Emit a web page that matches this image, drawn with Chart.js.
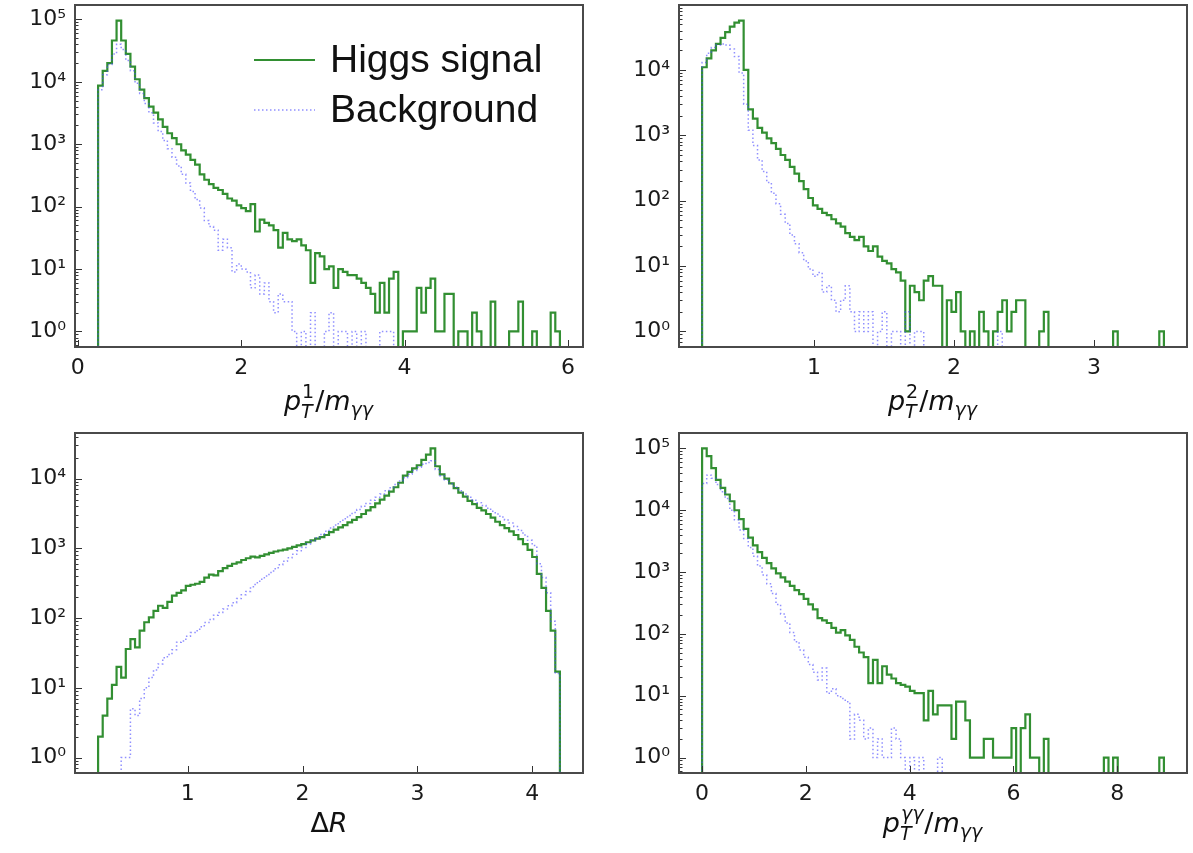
<!DOCTYPE html>
<html>
<head>
<meta charset="utf-8">
<script src="https://cdn.jsdelivr.net/npm/chart.js@4.4.1/dist/chart.umd.min.js"></script>
<style>
    body { margin: 0; background: #fff; }
    #wrap { position: relative; width: 1193px; height: 853px; overflow: hidden; }
    canvas { position: absolute; }
</style>
</head>
<body>
<div id="wrap">
    <canvas id="chart-pt1" width="580" height="428" style="left:10px;top:0"></canvas>
    <canvas id="chart-pt2" width="579" height="428" style="left:614px;top:0"></canvas>
    <canvas id="chart-dr" width="580" height="425" style="left:10px;top:428px"></canvas>
    <canvas id="chart-ptgg" width="579" height="425" style="left:614px;top:428px"></canvas>
</div>
<script>
/**
 * Histogram ranges (first and last bin edge), 100 equal bins each.
 */
const pt1Range = [0.25, 5.9];
const pt2Range = [0.2, 3.5];
const drRange = [0.22, 4.24];
const ptggRange = [0, 8.9];

// p_T^1 / m_yy
const pt1Signal = [
    8700, 15000, 20000, 46000, 96000, 46000, 28000, 17500, 11000, 7500,
    5500, 4000, 3200, 2500, 1900, 1500, 1250, 1000, 800, 680,
    560, 470, 330, 270, 230, 200, 185, 160, 135, 125,
    105, 95, 85, 110, 40, 62, 55, 50, 42, 22,
    38, 30, 28, 30, 24, 20, 6, 18, 16, 10,
    11, 5, 10, 9, 8, 8, 7, 6, 5, 4,
    2, 6, 2, 7, 9, 0, 1, 1, 1, 5,
    2, 5, 7, 1, 1, 4, 4, 0, 1, 1,
    0, 2, 1, 0, 0, 3, 0, 0, 0, 1,
    1, 3, 0, 0, 1, 0, 0, 0, 2, 1
];
const pt1Background = [
    7500, 13000, 19000, 28000, 40000, 33000, 22000, 15000, 9500, 6500,
    4500, 3200, 2200, 1600, 1150, 850, 620, 450, 330, 240,
    175, 130, 95, 60, 48, 42, 20, 30, 22, 9,
    12, 10, 9, 5, 8, 4, 6, 3, 2, 4,
    3, 3, 1, 0, 1, 0, 2, 0, 0, 1,
    2, 0, 1, 1, 0, 1, 0, 1, 0, 0,
    0, 1, 1, 1, 0, 0, 0, 0, 0, 0,
    0, 0, 0, 0, 0, 0, 0, 0, 0, 0,
    0, 0, 0, 0, 0, 0, 0, 0, 0, 0,
    0, 0, 0, 0, 0, 0, 0, 0, 0, 0
];

// p_T^2 / m_yy
const pt2Signal = [
    11000, 15000, 20000, 25000, 31000, 38000, 46000, 53000, 57000, 10000,
    2500, 1800, 1300, 1100, 900, 760, 620, 500, 420, 330,
    260, 200, 150, 110, 85, 75, 65, 60, 52, 45,
    40, 32, 28, 25, 28, 20, 17, 20, 14, 12,
    11, 9, 8, 6, 1, 5, 4, 3, 6, 7,
    5, 5, 0, 3, 2, 4, 1, 0, 1, 0,
    2, 1, 0, 1, 2, 3, 1, 2, 3, 3,
    0, 0, 0, 1, 2, 0, 0, 0, 0, 0,
    0, 0, 0, 0, 0, 0, 0, 0, 0, 1,
    0, 0, 0, 0, 0, 0, 0, 0, 0, 1
];
const pt2Background = [
    13000, 18000, 22000, 24000, 25000, 24000, 21000, 16000, 9000, 3000,
    1200, 700, 420, 280, 190, 130, 90, 62, 45, 30,
    22, 16, 12, 9, 7, 8, 4, 5, 3, 2,
    3, 5, 2, 1, 2, 1, 2, 0, 1, 2,
    0, 1, 1, 0, 2, 0, 1, 1, 0, 0,
    0, 0, 0, 0, 0, 0, 0, 0, 0, 0,
    0, 0, 0, 0, 1, 0, 0, 0, 0, 0,
    0, 0, 0, 0, 0, 0, 0, 0, 0, 0,
    0, 0, 0, 0, 0, 0, 0, 0, 0, 0,
    0, 0, 0, 0, 0, 0, 0, 0, 0, 0
];

// Delta R
const drSignal = [
    2, 4, 7, 11, 20, 14, 36, 50, 38, 66,
    87, 102, 127, 150, 140, 170, 210, 230, 250, 290,
    300, 310, 330, 380, 420, 410, 470, 520, 560, 600,
    630, 680, 720, 760, 740, 780, 820, 860, 900, 930,
    960, 1000, 1050, 1100, 1150, 1220, 1300, 1380, 1450, 1550,
    1700, 1850, 2000, 2150, 2350, 2550, 2800, 3100, 3500, 3900,
    4400, 5000, 5700, 6500, 7500, 8700, 11000, 12500, 14000, 15500,
    18500, 22000, 27000, 15000, 11500, 10000, 8500, 7300, 6300, 5500,
    4800, 4300, 3800, 3500, 3100, 2750, 2400, 2150, 1950, 1750,
    1550, 1350, 1150, 950, 750, 430, 270, 127, 66, 17
];
const drBackground = [
    0, 0, 0, 0, 0, 1, 1, 5, 4, 7,
    10, 14, 18, 22, 27, 30, 35, 45, 47, 55,
    62, 66, 75, 86, 95, 110, 120, 135, 150, 166,
    190, 215, 240, 280, 320, 360, 400, 450, 510, 580,
    650, 730, 820, 920, 1030, 1150, 1280, 1420, 1580, 1750,
    1950, 2150, 2400, 2650, 2950, 3250, 3600, 4000, 4400, 4900,
    5400, 6000, 6700, 7400, 8200, 9200, 10300, 11500, 13000, 14500,
    16000, 17000, 18000, 13500, 11000, 9500, 8400, 7500, 6700, 6000,
    5400, 4900, 4500, 4100, 3750, 3400, 3100, 2800, 2550, 2300,
    2050, 1800, 1550, 1300, 1100, 600, 380, 230, 90, 16
];

// p_T^yy / m_yy
const ptggSignal = [
    100000, 75000, 48000, 31000, 23000, 18000, 14000, 10000, 7200, 5000,
    3600, 2700, 2100, 1700, 1400, 1150, 950, 820, 700, 600,
    510, 440, 370, 300, 250, 180, 165, 150, 125, 105,
    115, 95, 80, 62, 50, 42, 16, 38, 16, 30,
    22, 19, 16, 15, 14, 12, 11, 11, 4, 12,
    5, 7, 7, 7, 2, 8, 8, 4, 1, 1,
    1, 2, 2, 1, 1, 1, 1, 3, 0, 3,
    5, 1, 1, 0, 2, 0, 0, 0, 0, 0,
    0, 0, 0, 0, 0, 0, 0, 1, 0, 1,
    0, 0, 0, 0, 0, 0, 0, 0, 0, 1
];
const ptggBackground = [
    27000, 37000, 33000, 26000, 20000, 15500, 10000, 7000, 4800, 3500,
    2500, 1800, 1250, 900, 650, 450, 300, 210, 150, 105,
    75, 55, 42, 32, 24, 18, 28, 11, 13, 10,
    9, 8, 2, 5, 4, 2, 3, 1, 2, 1,
    1, 3, 2, 1, 0, 1, 0, 1, 0, 0,
    0, 1, 0, 0, 0, 0, 0, 0, 0, 0,
    0, 0, 0, 0, 0, 0, 0, 0, 0, 0,
    0, 0, 0, 0, 0, 0, 0, 0, 0, 0,
    0, 0, 0, 0, 0, 0, 0, 0, 0, 0,
    0, 0, 0, 0, 0, 0, 0, 0, 0, 0
];

// x tick labels per panel
const pt1Ticks = [0, 2, 4, 6];
const pt2Ticks = [1, 2, 3];
const drTicks = [1, 2, 3, 4];
const ptggTicks = [0, 2, 4, 6, 8];

// axis titles, written as mathtext pieces
const pt1Title = [{t: 'p', i: true}, {sup: '1', sub: 'T'}, {t: '/'}, {t: 'm', i: true}, {sub: 'γγ'}];
const pt2Title = [{t: 'p', i: true}, {sup: '2', sub: 'T'}, {t: '/'}, {t: 'm', i: true}, {sub: 'γγ'}];
const drTitle = [{t: 'Δ'}, {t: 'R', i: true}];
const ptggTitle = [{t: 'p', i: true}, {sup: 'γγ', sub: 'T'}, {t: '/'}, {t: 'm', i: true}, {sub: 'γγ'}];

const SIGNAL_LABEL = 'Higgs signal';
const BACKGROUND_LABEL = 'Background';

const GREEN = 'rgb(50, 143, 50)';
const BLUE = 'rgba(70, 70, 255, 0.6)';
const FONT = '"DejaVu Sans", sans-serif';
const FLOOR = 1e-3;
const SUP = {'0': '⁰', '1': '¹', '2': '²', '3': '³', '4': '⁴', '5': '⁵', '6': '⁶', '7': '⁷', '8': '⁸', '9': '⁹'};

Chart.defaults.font.family = FONT;

/**
 * turns bin counts into the outline of a step histogram
 */
function histPoints(range, counts) {
    const w = (range[1] - range[0]) / counts.length;
    const pts = [{x: range[0], y: FLOOR}];
    counts.forEach((c, i) => pts.push({x: range[0] + i * w, y: c > 0 ? c : FLOOR}));
    pts.push({x: range[1], y: FLOOR});
    return pts;
}

/**
 * 5% margins like matplotlib autoscale
 */
function paddedRange(range) {
    const m = 0.05 * (range[1] - range[0]);
    return [range[0] - m, range[1] + m];
}

function logLimits(series) {
    let lo = Infinity, hi = 0;
    series.forEach(s => s.forEach(v => {
        if (v > 0) { lo = Math.min(lo, v); hi = Math.max(hi, v); }
    }));
    lo = Math.log10(lo);
    hi = Math.log10(hi);
    const m = 0.05 * (hi - lo);
    return [Math.pow(10, lo - m), Math.pow(10, hi + m)];
}

/**
 * draws a small mathtext-like label centred on cx
 */
function drawMath(ctx, parts, cx, baseline, size) {
    const small = Math.round(size * 0.7);
    const font = (it, s) => (it ? 'italic ' : '') + s + 'px ' + FONT;
    const pieces = [];
    let x = 0;
    parts.forEach(p => {
        if (p.t) {
            ctx.font = font(p.i, size);
            pieces.push({text: p.t, font: ctx.font, x: x, dy: 0});
            x += ctx.measureText(p.t).width;
        } else {
            let w = 0;
            if (p.sup) {
                ctx.font = font(!/^\d+$/.test(p.sup), small);
                pieces.push({text: p.sup, font: ctx.font, x: x + 1, dy: -0.45 * size});
                w = Math.max(w, ctx.measureText(p.sup).width + 1);
            }
            if (p.sub) {
                ctx.font = font(true, small);
                pieces.push({text: p.sub, font: ctx.font, x: x, dy: p.sup ? 0.28 * size : 0.22 * size});
                w = Math.max(w, ctx.measureText(p.sub).width);
            }
            x += w + 1;
        }
    });
    const x0 = cx - x / 2;
    pieces.forEach(p => {
        ctx.font = p.font;
        ctx.fillText(p.text, x0 + p.x, baseline + p.dy);
    });
}

const framePlugin = {
    id: 'frame',
    afterDatasetsDraw(chart) {
        const {ctx, chartArea: a, scales: {x, y}} = chart;
        ctx.save();
        ctx.strokeStyle = '#333';
        ctx.lineWidth = 1;
        const e0 = Math.floor(Math.log10(y.min)), e1 = Math.ceil(Math.log10(y.max));
        for (let e = e0; e <= e1; e++) {
            for (let k = 1; k < 10; k++) {
                const v = k * Math.pow(10, e);
                if (v < y.min || v > y.max) continue;
                const py = Math.round(y.getPixelForValue(v)) + 0.5;
                ctx.beginPath();
                ctx.moveTo(a.left, py);
                ctx.lineTo(a.left + (k === 1 ? 7 : 3.5), py);
                ctx.stroke();
            }
        }
        x.ticks.forEach(t => {
            const px = Math.round(x.getPixelForValue(t.value)) + 0.5;
            ctx.beginPath();
            ctx.moveTo(px, a.bottom);
            ctx.lineTo(px, a.bottom - 7);
            ctx.stroke();
        });
        ctx.strokeStyle = '#4a4a4a';
        ctx.lineWidth = 2;
        ctx.strokeRect(a.left, a.top, a.right - a.left, a.bottom - a.top);
        ctx.restore();
    }
};

const titlePlugin = {
    id: 'mathTitle',
    afterDraw(chart, args, opts) {
        const {ctx, chartArea: a} = chart;
        ctx.save();
        ctx.fillStyle = '#111';
        ctx.textBaseline = 'alphabetic';
        drawMath(ctx, opts.parts, (a.left + a.right) / 2, a.bottom + opts.dy, 27);
        ctx.restore();
    }
};

const insetLegendPlugin = {
    id: 'insetLegend',
    afterDraw(chart, args, opts) {
        if (!opts.show) return;
        const {ctx, chartArea: a} = chart;
        ctx.save();
        chart.data.datasets.forEach((ds, i) => {
            const base = a.top + 67 + i * 50;
            ctx.strokeStyle = ds.borderColor;
            ctx.lineWidth = ds.borderWidth;
            ctx.setLineDash(ds.borderDash || []);
            ctx.beginPath();
            ctx.moveTo(a.right - 329, base - 12);
            ctx.lineTo(a.right - 268, base - 12);
            ctx.stroke();
            ctx.setLineDash([]);
            ctx.fillStyle = '#111';
            ctx.font = '39px "Liberation Sans", Arial, sans-serif';
            ctx.fillText(ds.label, a.right - 253, base);
        });
        ctx.restore();
    }
};

/**
 * builds one of the four log-scale histogram panels
 */
function makePanel(id, range, signal, background, xTicks, title, layout) {
    const [xmin, xmax] = paddedRange(range);
    const [ymin, ymax] = logLimits([signal, background]);
    return new Chart(document.getElementById(id), {
        type: 'line',
        data: {
            datasets: [{
                label: SIGNAL_LABEL,
                data: histPoints(range, signal),
                borderColor: GREEN,
                borderWidth: 2.2,
                stepped: 'before',
                pointRadius: 0,
                fill: false,
                clip: 0,
                order: 2
            }, {
                label: BACKGROUND_LABEL,
                data: histPoints(range, background),
                borderColor: BLUE,
                borderWidth: 1.5,
                borderDash: [1.5, 2.5],
                stepped: 'before',
                pointRadius: 0,
                fill: false,
                clip: 0,
                order: 1
            }]
        },
        options: {
            responsive: false,
            animation: false,
            devicePixelRatio: 1,
            events: [],
            layout: {padding: {top: 5, right: layout.right, left: 0, bottom: 0}},
            plugins: {
                legend: {display: false},
                tooltip: {enabled: false},
                mathTitle: {parts: title, dy: layout.titleDy},
                insetLegend: {show: !!layout.legend}
            },
            scales: {
                x: {
                    type: 'linear',
                    min: xmin,
                    max: xmax,
                    bounds: 'data',
                    grid: {display: false, drawTicks: false},
                    border: {display: false},
                    ticks: {
                        padding: 8,
                        autoSkip: false,
                        maxRotation: 0,
                        color: '#1a1a1a',
                        font: {size: 22, family: FONT},
                        callback: v => String(v)
                    },
                    afterBuildTicks: s => { s.ticks = xTicks.map(v => ({value: v})); },
                    afterFit: s => { s.height = layout.xHeight; s.paddingLeft = 0; s.paddingRight = 0; }
                },
                y: {
                    type: 'logarithmic',
                    min: ymin,
                    max: ymax,
                    bounds: 'data',
                    grid: {display: false, drawTicks: false},
                    border: {display: false},
                    ticks: {
                        padding: 9,
                        autoSkip: false,
                        color: '#1a1a1a',
                        font: {size: 22, family: FONT},
                        callback: v => '10' + String(Math.round(Math.log10(v))).split('').map(c => SUP[c]).join('')
                    },
                    afterBuildTicks: s => {
                        const t = [];
                        for (let e = Math.ceil(Math.log10(s.min)); e <= Math.floor(Math.log10(s.max)); e++) {
                            t.push({value: Math.pow(10, e)});
                        }
                        s.ticks = t;
                    },
                    afterFit: s => { s.width = 65; s.paddingTop = 0; s.paddingBottom = 0; }
                }
            }
        },
        plugins: [framePlugin, titlePlugin, insetLegendPlugin]
    });
}

makePanel('chart-pt1', pt1Range, pt1Signal, pt1Background, pt1Ticks, pt1Title,
    {right: 7, xHeight: 81, titleDy: 63, legend: true});
makePanel('chart-pt2', pt2Range, pt2Signal, pt2Background, pt2Ticks, pt2Title,
    {right: 6, xHeight: 81, titleDy: 63});
makePanel('chart-dr', drRange, drSignal, drBackground, drTicks, drTitle,
    {right: 7, xHeight: 80, titleDy: 59});
makePanel('chart-ptgg', ptggRange, ptggSignal, ptggBackground, ptggTicks, ptggTitle,
    {right: 6, xHeight: 80, titleDy: 59});
</script>
</body>
</html>
